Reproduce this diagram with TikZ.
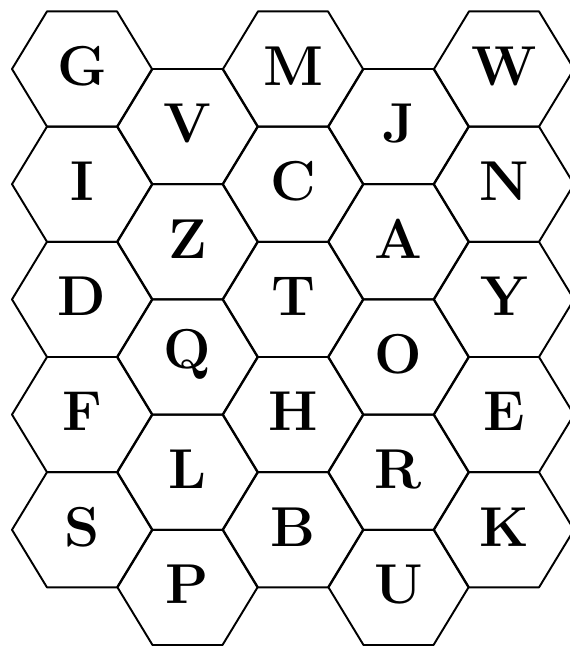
\documentclass[tikz,border=0pt]{standalone}
\usepackage{tikz}
\usetikzlibrary{positioning,calc}
\tikzset{
  hexcell/.style={draw=black, line width=1.1pt, line join=round},
  letter/.style={inner sep=0pt, font=\bfseries\fontsize{32}{36}\selectfont}
}

\begin{document}
\begin{tikzpicture}[x=0.02cm, y=-0.02cm]
    \useasboundingbox (0,0) rectangle (569,648);
    % five columns of hexagons, odd columns shifted half a cell down
    \foreach \col/\names in {0/{G,I,D,F,S},1/{V,Z,Q,L,P},2/{M,C,T,H,B},3/{J,A,O,R,U},4/{W,N,Y,E,K}} {
      \foreach \l [count=\row from 0] in \names {
        \pgfmathsetmacro{\cx}{82+105.5*\col}
        \pgfmathsetmacro{\cy}{69+115.2*\row+57.6*mod(\col,2)}
        \node[letter] (\l) at (\cx,\cy-3) {\l};
        \draw[hexcell] (\cx,\cy) ++(-70,0) -- ++(35,-57.6) -- ++(70,0) -- ++(35,57.6) -- ++(-35,57.6) -- ++(-70,0) -- cycle;
      }
    }
\end{tikzpicture}
\end{document}
